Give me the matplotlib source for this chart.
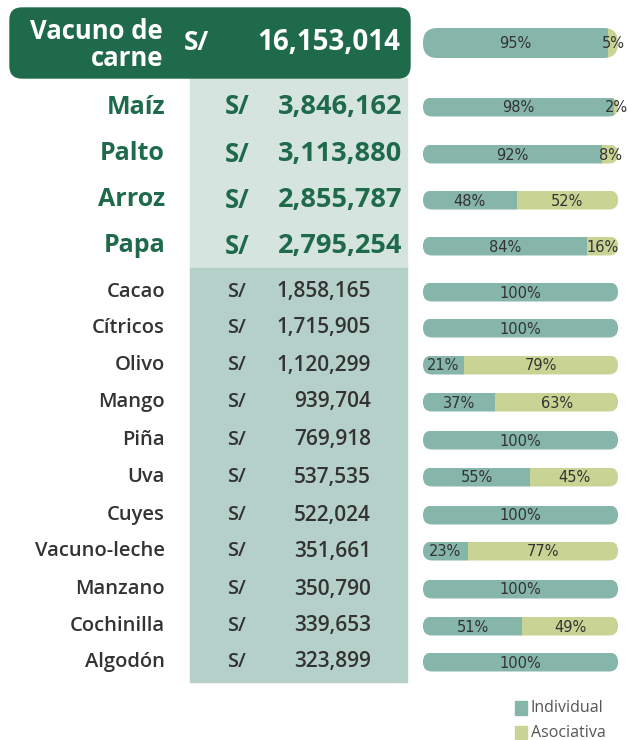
import matplotlib
matplotlib.use("Agg")
import matplotlib.pyplot as plt
from matplotlib.patches import FancyBboxPatch, Rectangle

# ---- data ----
crops = ["Vacuno de\ncarne", "Maíz", "Palto", "Arroz", "Papa", "Cacao", "Cítricos", "Olivo",
         "Mango", "Piña", "Uva", "Cuyes", "Vacuno-leche", "Manzano", "Cochinilla", "Algodón"]
amounts = ["16,153,014", "3,846,162", "3,113,880", "2,855,787", "2,795,254", "1,858,165",
           "1,715,905", "1,120,299", "939,704", "769,918", "537,535", "522,024", "351,661",
           "350,790", "339,653", "323,899"]
individual = [95, 98, 92, 48, 84, 100, 100, 21, 37, 100, 55, 100, 23, 100, 51, 100]
asociativa = [5, 2, 8, 52, 16, 0, 0, 79, 63, 0, 45, 0, 77, 0, 49, 0]
legend_labels = ["Individual", "Asociativa"]

# ---- style ----
C_IND = "#86b5aa"
C_ASO = "#c9d494"
C_DARK = "#1e6a4a"
C_TXT = "#333333"
C_LIGHT = "#d6e4df"
C_MID = "#b5d0c9"
FONT = ["Open Sans", "DejaVu Sans"]

fig = plt.figure(figsize=(6.28, 7.40), dpi=100)
ax = fig.add_axes([0, 0, 1, 1])
ax.set_xlim(0, 628)
ax.set_ylim(740, 0)
ax.axis("off")

row_y = [43, 107, 154, 200, 246, 292, 328, 365, 402, 440, 477, 515, 551, 589, 626, 662]

# background columns
ax.add_patch(Rectangle((190, 78), 217, 190, color=C_LIGHT, zorder=0))
ax.add_patch(Rectangle((190, 268), 217, 414, color=C_MID, zorder=0))
# header box
ax.add_patch(FancyBboxPatch((10, 8), 400, 70, boxstyle="round,pad=0,rounding_size=12",
                            color=C_DARK, zorder=1))

for i, (name, amt, y) in enumerate(zip(crops, amounts, row_y)):
    if i == 0:
        ax.text(163, y + 2, name, ha="right", va="center", color="white", fontsize=18.5,
                fontweight="bold", family=FONT, linespacing=1.02, zorder=3)
        ax.text(196, y, "S/", ha="center", va="center", color="white", fontsize=19,
                fontweight="bold", family=FONT, zorder=3)
        ax.text(400, y, amt, ha="right", va="center", color="white", fontsize=20,
                fontweight="bold", family=FONT, zorder=3)
    elif i <= 4:
        ax.text(165, y, name, ha="right", va="center", color=C_DARK, fontsize=18,
                fontweight="bold", family=FONT, zorder=3)
        ax.text(237, y, "S/", ha="center", va="center", color=C_DARK, fontsize=18.5,
                fontweight="bold", family=FONT, zorder=3)
        ax.text(402, y, amt, ha="right", va="center", color=C_DARK, fontsize=19.5,
                fontweight="bold", family=FONT, zorder=3)
    else:
        ax.text(165, y, name, ha="right", va="center", color=C_TXT, fontsize=14.5,
                fontweight="semibold", family=FONT, zorder=3)
        ax.text(237, y, "S/", ha="center", va="center", color=C_TXT, fontsize=14.5,
                fontweight="semibold", family=FONT, zorder=3)
        ax.text(371, y, amt, ha="right", va="center", color=C_TXT, fontsize=15,
                fontweight="semibold", family=FONT, zorder=3)

# stacked bars (pixel scale: 100% -> 195 px)
x0 = 423
scale = 1.95
heights = [30] + [19] * (len(crops) - 1)
for i, (ind, aso, y, h) in enumerate(zip(individual, asociativa, row_y, heights)):
    w1 = ind * scale
    w2 = aso * scale
    b1 = ax.barh(y, w1, left=x0, height=h, color=C_IND, zorder=2)
    b2 = ax.barh(y, w2, left=x0 + w1, height=h, color=C_ASO, zorder=2)
    outline = FancyBboxPatch((x0, y - h / 2), w1 + w2, h,
                             boxstyle="round,pad=0,rounding_size=%f" % (h * 0.48),
                             facecolor="none", edgecolor="none", transform=ax.transData)
    ax.add_patch(outline)
    for p in list(b1) + list(b2):
        p.set_clip_path(outline)
    fs = 10.5
    if ind > 0:
        ax.text(x0 + w1 / 2, y + 1, f"{ind}%", ha="center", va="center", color=C_TXT,
                fontsize=fs, zorder=3)
    if aso > 0:
        ax.text(x0 + w1 + w2 / 2, y + 1, f"{aso}%", ha="center", va="center", color=C_TXT,
                fontsize=fs, zorder=3)

# legend
for j, (lab, col) in enumerate(zip(legend_labels, [C_IND, C_ASO])):
    ly = 708 + j * 25
    ax.add_patch(Rectangle((515, ly - 7), 12, 14, color=col, zorder=2))
    ax.text(531, ly, lab, ha="left", va="center", color="#555555", fontsize=11.5,
            family=FONT, zorder=3)

fig.savefig("out.png", dpi=100)
